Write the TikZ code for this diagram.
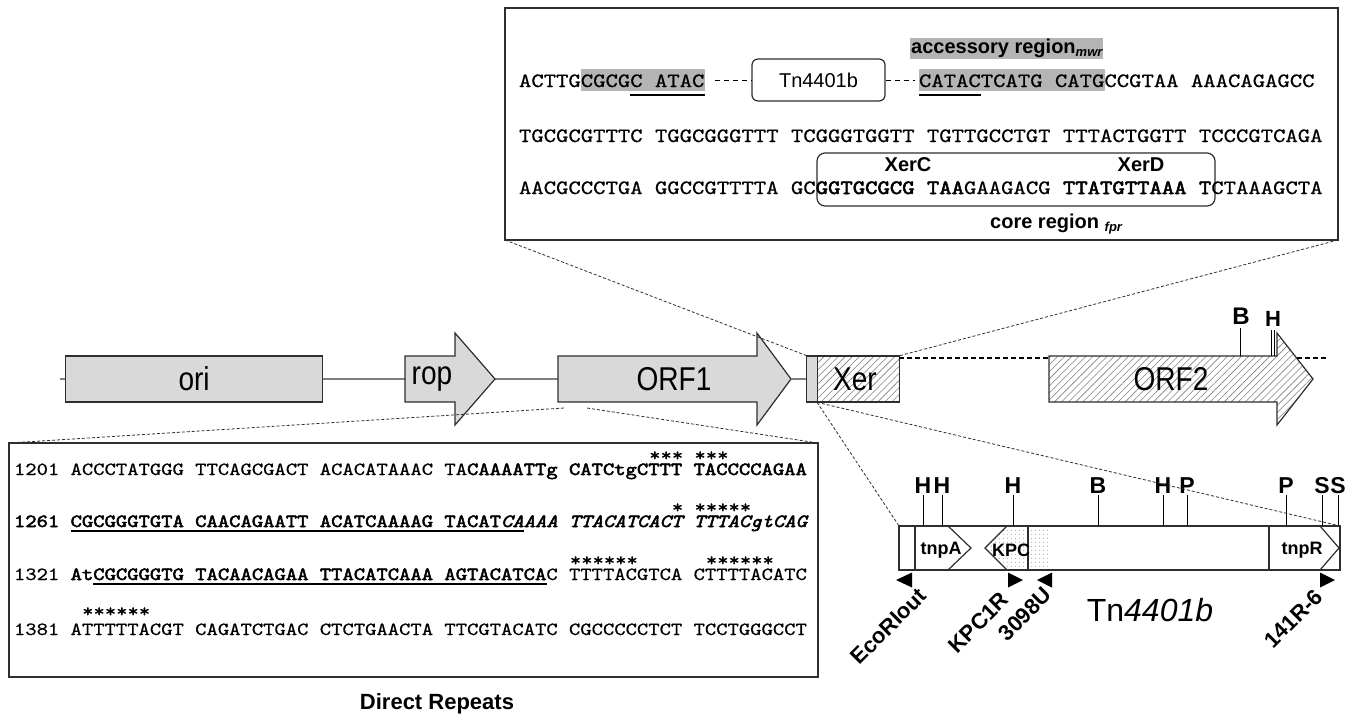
\documentclass[tikz,border=0pt]{standalone}
\usepackage{fontspec}
\setmainfont{Liberation Sans}
\newfontfamily\seqfont[FakeStretch=1.16, Extension=.otf,
  UprightFont=lmmono10-regular, UprightFeatures={FakeBold=0.6},
  ItalicFont=lmmono10-italic, ItalicFeatures={FakeBold=0.6},
  BoldFont=lmmono10-regular, BoldFeatures={FakeBold=2.6},
  BoldItalicFont=lmmono10-italic, BoldItalicFeatures={FakeBold=2.6}]{lmmono10-regular}
\newfontfamily\narrowfont[FakeStretch=0.85]{Liberation Sans}
\usetikzlibrary{patterns.meta}
\definecolor{boxgray}{HTML}{D9D9D9}
\definecolor{hlgray}{HTML}{B4B4B4}
\definecolor{linegray}{HTML}{7F7F7F}
\definecolor{edge}{HTML}{2E2E2E}
\tikzset{
  seqtop/.style={font=\seqfont\fontsize{20.3}{23}\selectfont, inner sep=0pt, outer sep=0pt, anchor=base west},
  seqbot/.style={font=\seqfont\fontsize{18.6}{21}\selectfont, inner sep=0pt, outer sep=0pt, anchor=base west},
  lbl/.style={font=\bfseries\fontsize{20}{24}\selectfont, inner sep=0pt},
  glbl/.style={font=\narrowfont\fontsize{33}{36}\selectfont, inner sep=0pt},
  gene/.style={draw=edge, fill=boxgray, line width=1.2pt},
  hatch/.style={draw=edge, line width=1.2pt, preaction={fill=white}, pattern={Lines[angle=45,distance=5pt,line width=0.6pt]}, pattern color=gray},
  dotfill/.style={pattern={Dots[radius=0.55pt,distance=4pt]}, pattern color=gray},
  conn/.style={dash pattern=on 3pt off 2pt, line width=0.8pt, draw=edge},
  backbone/.style={line width=2.2pt, draw=linegray},
  frame/.style={draw=edge, line width=1.8pt, inner sep=0pt, outer sep=0pt, anchor=north west},
  site/.style={line width=1pt, draw=black},
  sitelbl/.style={font=\bfseries\fontsize{23}{26}\selectfont, inner sep=0pt, anchor=base},
  primer/.style={fill=black},
  plbl/.style={font=\bfseries\fontsize{22}{24}\selectfont, inner sep=0pt, rotate=45, anchor=east},
  glabel/.style={font=\bfseries\fontsize{18}{20}\selectfont, inner sep=0pt},
  stars/.style={font=\seqfont\fontsize{18.6}{21}\selectfont, inner sep=0pt, anchor=base west},
}
\begin{document}
\begin{tikzpicture}[x=1pt,y=-1pt]
\useasboundingbox (0,0) rectangle (1360,721);

% ================= top box =================
\node[frame, minimum width=833pt, minimum height=232pt] (topbox) at (505,8) {};
\node[fill=hlgray, inner xsep=1pt, inner ysep=0pt, minimum height=21pt, anchor=west, font=\bfseries\fontsize{20}{24}\selectfont] (acc) at (910,48) {accessory region\raisebox{-3pt}{\fontsize{13}{14}\selectfont\itshape mwr}};
\fill[hlgray] (580.9,69) rectangle (704.7,91);
\fill[hlgray] (919,69) rectangle (1104.7,91);
\node[seqtop] (t1a) at (519,87) {ACTTGCGCGC ATAC};
\node[seqtop] (t1b) at (919,87) {CATACTCATG CATGCCGTAA AAACAGAGCC};
\draw[line width=1.4pt] (630.4,95) -- (704.7,95);
\draw[line width=1.4pt] (919,95) -- (980.9,95);
\node[draw=edge, rounded corners=6pt, line width=1.2pt, minimum width=133pt, minimum height=42pt, inner sep=0pt, font=\fontsize{20}{24}\selectfont] (tnsmall) at (818.5,80) {Tn4401b};
\coordinate (dashl) at (715,80);
\coordinate (dashr) at (915,80);
\draw[dash pattern=on 5pt off 4pt, line width=1pt] (dashl) -- (tnsmall.west);
\draw[dash pattern=on 5pt off 4pt, line width=1pt] (tnsmall.east) -- (dashr);
\node[seqtop] (t2) at (519,142) {TGCGCGTTTC TGGCGGGTTT TCGGGTGGTT TGTTGCCTGT TTTACTGGTT TCCCGTCAGA};
\node[draw=edge, rounded corners=8pt, line width=1.2pt, minimum width=398pt, minimum height=53pt, inner sep=0pt] (core) at (1016,179.5) {};
\node[lbl, anchor=base] (xerc) at (908,171) {XerC};
\node[lbl, anchor=base] (xerd) at (1141,171) {XerD};
\node[seqtop] (t3) at (519,194) {AACGCCCTGA GGCCGTTTTA GC\textbf{GGTGCGCG TAA}GAAGACG \textbf{TTATGTTAAA T}CTAAAGCTA};
\node[lbl, anchor=base west] (corelbl) at (990,228) {core region \raisebox{-3pt}{\fontsize{13}{14}\selectfont\itshape fpr}};

% ================= middle map =================
\coordinate (stub) at (60,379);
\node[gene, minimum width=257pt, minimum height=46pt, inner sep=0pt, anchor=west, font=\narrowfont\fontsize{33}{36}\selectfont] (ori) at (65,379) {ori};
\draw[backbone] (stub) -- (ori.west);
\coordinate (ropw) at (405,379);
\coordinate (ropt) at (495,379);
\coordinate (orf1w) at (558,379);
\coordinate (orf1t) at (791,379);
\draw[backbone] (ori.east) -- (ropw);
\draw[backbone] (ropt) -- (orf1w);
\draw[gene] (405,356) -- (455,356) -- (455,333) -- (ropt) -- (455,425) -- (455,402) -- (405,402) -- cycle;
\node[glbl] (roplbl) at (432,379) {rop};
\draw[gene] (558,356) -- (757,356) -- (757,333) -- (orf1t) -- (757,425) -- (757,402) -- (558,402) -- cycle;
\node[glbl] (orf1lbl) at (674,379) {ORF1};
\node[gene, minimum width=11pt, minimum height=46pt, inner sep=0pt, anchor=west] (xg) at (806,379) {};
\node[hatch, minimum width=82pt, minimum height=46pt, inner sep=0pt, anchor=west] (xer) at (817,379) {};
\node[glbl] (xerlbl) at (855,379) {Xer};
\draw[backbone] (orf1t) -- (xg.west);
\coordinate (xerd) at (899,358);
\coordinate (orf2w) at (1049,358);
\draw[dash pattern=on 5pt off 3pt, line width=1.2pt] (xerd) -- (orf2w);
\draw[hatch] (1049,356) -- (1277,356) -- (1277,333) -- (1313,379) -- (1277,425) -- (1277,402) -- (1049,402) -- cycle;
\node[glbl] (orf2lbl) at (1171,379) {ORF2};
\coordinate (dbeg) at (1297,358);
\coordinate (dend) at (1326,358);
\draw[dash pattern=on 5pt off 3pt, line width=1.2pt] (dbeg) -- (dend);
\draw[site] (1240,356) -- (1240,328);
\node[sitelbl, font=\bfseries\fontsize{24}{26}\selectfont] (bsite) at (1241,324) {B};
\draw[site] (1271,356) -- (1271,330);
\draw[site] (1274,356) -- (1274,330);
\node[sitelbl, font=\bfseries\fontsize{22}{26}\selectfont] (hsite) at (1273,326) {H};

% ================= bottom-left sequence box =================
\node[frame, minimum width=809pt, minimum height=234pt] (botbox) at (9,443) {};
\node[stars] (s1) at (649.0,461) {*** ***};
\node[seqbot] (b1) at (14,475) {1201 ACCCTATGGG TTCAGCGACT ACACATAAAC TA\textbf{CAAAATTg CATCtgCTTT TACCCCAGAA}};
\node[stars] (s2) at (671.7,513) {* *****};
\node[seqbot] (b2) at (14,527) {\bfseries 1261 CGCGGGTGTA CAACAGAATT ACATCAAAAG TACAT\itshape CAAAA TTACATCACT TTTACgtCAG};
\draw[line width=1.5pt] (70.7,531) -- (524.3,531);
\node[stars] (s3a) at (569.7,566) {******};
\node[stars] (s3b) at (705.7,566) {******};
\node[seqbot] (b3) at (14,580) {1321 \textbf{AtCGCGGGTG TACAACAGAA TTACATCAAA AGTACATCA}C TTTTACGTCA CTTTTACATC};
\draw[line width=1.5pt] (93.4,584) -- (547,584);
\node[stars] (s4) at (82.0,617) {******};
\node[seqbot] (b4) at (14,635) {1381 ATTTTTACGT CAGATCTGAC CTCTGAACTA TTCGTACATC CGCCCCCTCT TCCTGGGCCT};
\node[lbl, anchor=base, font=\bfseries\fontsize{22}{24}\selectfont] (dr) at (437,709) {Direct Repeats};

% ================= Tn4401b map =================
\node[frame, draw=edge, line width=1.5pt, minimum width=441pt, minimum height=44pt] (tnbox) at (899,526) {};
\draw[line width=1.5pt, edge] (915,526) -- (915,570);
\draw[line width=1.2pt, edge] (915,526) -- (948,526) -- (971,548) -- (948,570) -- (915,570);
\node[glabel] (tnpa) at (941,550) {tnpA};
\path[dotfill] (985,548) -- (1007,526) -- (1028,526) -- (1028,570) -- (1007,570) -- cycle;
\path[dotfill] (1030,527) rectangle (1050,569);
\draw[line width=1.2pt, edge] (1028,526) -- (1007,526) -- (985,548) -- (1007,570) -- (1028,570);
\draw[line width=1.6pt, edge] (1028,526) -- (1028,570);
\node[glabel] (kpc) at (1011,550) {KPC};
\draw[line width=1.6pt, edge] (1269,526) -- (1269,570);
\draw[line width=1.2pt, edge] (1320,526) -- (1339,548) -- (1320,570);
\node[glabel] (tnpr) at (1302,550) {tnpR};
\foreach \x/\l [count=\i] in {923/H,942/H,1013/H,1098/B,1163/H,1187/P,1286/P,1322/S,1338/S} {
  \draw[site] (\x,526) -- (\x,495);
  \node[sitelbl] (site\i) at (\x,493) {\l};
}
\fill[primer] (896,580) -- (912,572.5) -- (912,587.5) -- cycle;
\fill[primer] (1008,572.5) -- (1023,580) -- (1008,587.5) -- cycle;
\fill[primer] (1037,580) -- (1052,572.5) -- (1052,587.5) -- cycle;
\fill[primer] (1320,572.5) -- (1335,580) -- (1320,587.5) -- cycle;
\node[plbl] (ecor) at (923,592) {EcoRIout};
\node[plbl] (kpc1r) at (1005,596) {KPC1R};
\node[plbl] (u3098) at (1048,591) {3098U};
\node[plbl] (r141) at (1319,593) {141R-6};
\node[font=\fontsize{32}{36}\selectfont, inner sep=0pt] (tnlbl) at (1150,610) {Tn\textit{4401b}};

% ================= zoom connectors =================
\coordinate (o1a) at (564,408);
\coordinate (o1b) at (587,408);
\draw[conn] (topbox.south west) -- (xg.north west);
\draw[conn] (topbox.south east) -- (xer.north east);
\draw[conn] (o1a) -- (botbox.north west);
\draw[conn] (o1b) -- (botbox.north east);
\draw[conn] (xer.south west) -- (tnbox.north west);
\draw[conn] (xer.south west) -- (tnbox.north east);
\end{tikzpicture}
\end{document}
